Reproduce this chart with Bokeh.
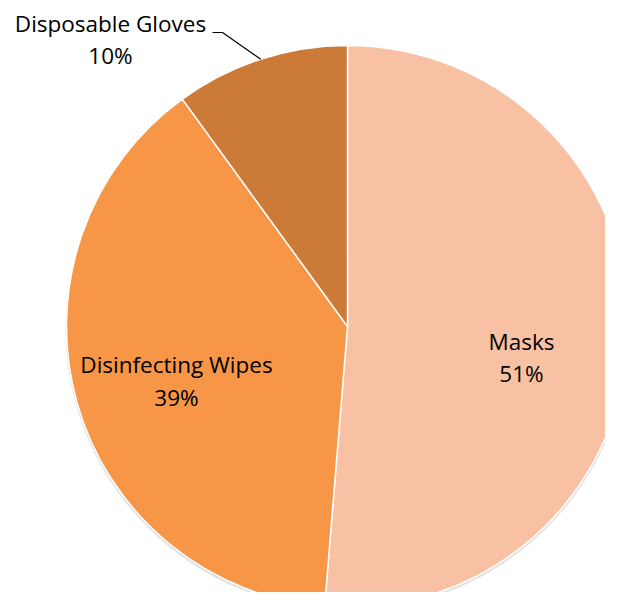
import math
from bokeh.plotting import figure
from bokeh.models import Range1d, ColumnDataSource
from bokeh.core.properties import value
from bokeh.embed import file_html
from bokeh.resources import INLINE

categories = ["Masks", "Disinfecting Wipes", "Disposable Gloves"]
shares = [51.3, 38.7, 10.0]
colors = ["#F9C1A4", "#F79646", "#CC7A37"]

W, H = 605, 592
REF_H = 608
p = figure(width=W, height=H, output_backend="svg", toolbar_location=None,
           x_range=Range1d(0, W), y_range=Range1d(REF_H - H, REF_H),
           min_border=0)
p.axis.visible = False
p.grid.visible = False
p.outline_line_color = None
p.background_fill_color = "white"
p.border_fill_color = "white"

cx, cy, r = 347, REF_H - 326, 281
total = sum(shares)
starts, ends, cum = [], [], 0.0
for s in shares:
    starts.append(math.pi / 2 - 2 * math.pi * cum / total)
    cum += s
    ends.append(math.pi / 2 - 2 * math.pi * cum / total)

# faint shadow
p.circle(x=[cx], y=[cy - 2], radius=r + 1, fill_color="#d0d0d0", fill_alpha=0.6, line_color=None)

src = ColumnDataSource(dict(x=[cx] * 3, y=[cy] * 3, start=starts, end=ends, color=colors))
p.wedge(x="x", y="y", radius=r, start_angle="start", end_angle="end", direction="clock",
        fill_color="color", line_color="white", line_width=1.5, source=src)

font = value("Open Sans")
fs = "22.5px"
labels = [f"{c}" for c in categories]
pcts = [f"{round(s / total * 100)}%" for s in shares]
# label centers (reference page coords)
lab_pos = [(521, 341, 373), (176, 364, 397), (110, 23, 55)]
for name, pct, (lx, y1, y2) in zip(labels, pcts, lab_pos):
    p.text(x=[lx], y=[REF_H - y1], text=[name], text_align="center", text_baseline="middle",
           text_font=font, text_font_size=fs, text_color="#000000")
    p.text(x=[lx], y=[REF_H - y2], text=[pct], text_align="center", text_baseline="middle",
           text_font=font, text_font_size=fs, text_color="#000000")

# leader line for gloves
mid = (starts[2] + ends[2]) / 2
ax, ay = cx + r * math.cos(mid), cy + r * math.sin(mid)
p.line(x=[212, 222, ax], y=[REF_H - 32, REF_H - 32, ay], line_color="black", line_width=1.2)

open("out.html", "w").write(file_html(p, INLINE))
